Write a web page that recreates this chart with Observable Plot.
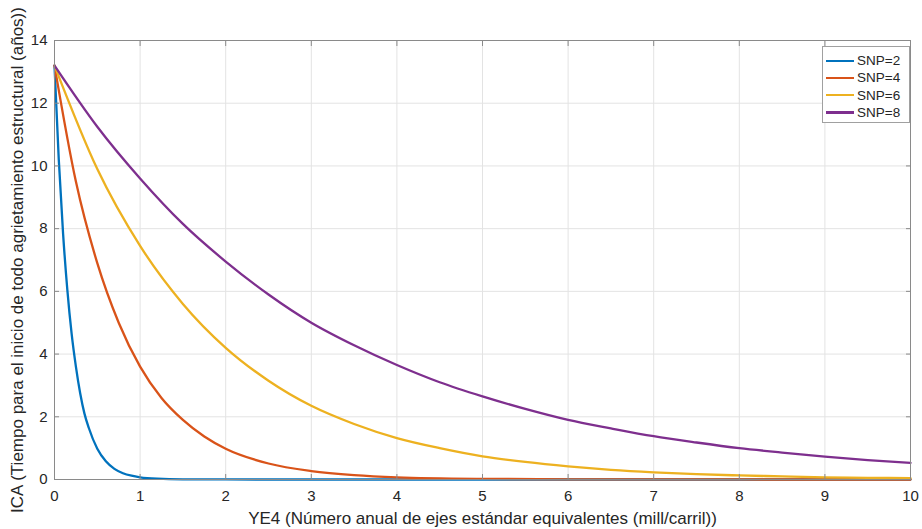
<!DOCTYPE html>
<html>
<head>
<meta charset="utf-8">
<script src="https://cdn.jsdelivr.net/npm/d3@7"></script>
<script src="https://cdn.jsdelivr.net/npm/@observablehq/plot@0.6"></script>
<style>
  body { margin: 0; background: #fff; font-family: "Liberation Sans", Arial, Helvetica, sans-serif; }
  #wrap { position: relative; width: 922px; height: 529px; }
  #legend { position: absolute; left: 822px; top: 46px; width: 88px; height: 77px;
    border: 1px solid #a0a0a0; background: #fff; box-sizing: border-box; padding-top: 5px; }
  .item { display: flex; align-items: center; height: 17.3px; font-size: 13.5px; color: #262626; }
  .sw { width: 28px; height: 2.2px; margin-left: 3px; margin-right: 3px; }
</style>
</head>
<body>
<div id="wrap"></div>
<script>
// Series names and colours
const seriesNames = ["SNP=2", "SNP=4", "SNP=6", "SNP=8"];
const seriesColors = ["#0072BD", "#D95319", "#EDB120", "#7E2F8E"];

// SNP=2
const xSNP2 = [0, 0.05, 0.1, 0.15, 0.2, 0.25, 0.3, 0.35, 0.4, 0.5, 0.6, 0.7, 0.8, 0.9, 1.0, 1.2, 1.5, 2, 3, 4, 5, 6, 7, 8, 9, 10];
const ySNP2 = [13.2, 10.2, 7.85, 6.05, 4.65, 3.6, 2.75, 2.1, 1.65, 0.98, 0.58, 0.34, 0.2, 0.12, 0.07, 0.025, 0.005, 0.001, 0, 0, 0, 0, 0, 0, 0, 0];

// SNP=4
const xSNP4 = [0, 0.25, 0.5, 0.75, 1, 1.25, 1.5, 1.75, 2, 2.5, 3, 3.5, 4, 5, 6, 7, 8, 9, 10];
const ySNP4 = [13.2, 9.5, 6.9, 5.0, 3.6, 2.6, 1.9, 1.37, 0.98, 0.51, 0.27, 0.14, 0.07, 0.02, 0.006, 0.002, 0.001, 0, 0];

// SNP=6
const xSNP6 = [0, 0.5, 1, 1.5, 2, 2.5, 3, 3.5, 4, 4.5, 5, 5.5, 6, 6.5, 7, 7.5, 8, 8.5, 9, 9.5, 10];
const ySNP6 = [13.2, 9.9, 7.45, 5.6, 4.2, 3.15, 2.35, 1.77, 1.32, 1.0, 0.74, 0.56, 0.42, 0.31, 0.23, 0.17, 0.13, 0.1, 0.07, 0.055, 0.04];

// SNP=8
const xSNP8 = [0, 0.5, 1, 1.5, 2, 2.5, 3, 3.5, 4, 4.5, 5, 5.5, 6, 6.5, 7, 7.5, 8, 8.5, 9, 9.5, 10];
const ySNP8 = [13.2, 11.25, 9.6, 8.15, 6.95, 5.9, 5.0, 4.28, 3.65, 3.1, 2.65, 2.25, 1.9, 1.63, 1.38, 1.18, 1.0, 0.86, 0.73, 0.62, 0.53];

// Tick values
const xTicks = [0, 1, 2, 3, 4, 5, 6, 7, 8, 9, 10];
const yTicks = [0, 2, 4, 6, 8, 10, 12, 14];

const xLabel = "YE4 (Número anual de ejes estándar equivalentes (mill/carril))";
const yLabel = "ICA (Tiempo para el inicio de todo agrietamiento estructural (años))";

const xs = [xSNP2, xSNP4, xSNP6, xSNP8];
const ys = [ySNP2, ySNP4, ySNP6, ySNP8];
const data = seriesNames.flatMap((s, i) => xs[i].map((x, j) => ({series: s, x, y: ys[i][j]})));

const textColor = "#262626";
const chart = Plot.plot({
  width: 922,
  height: 529,
  marginLeft: 54,
  marginRight: 12,
  marginTop: 40,
  marginBottom: 50,
  style: {fontFamily: '"Liberation Sans", Arial, Helvetica, sans-serif', fontSize: "15px", color: textColor, background: "#fff"},
  x: {domain: [0, 10]},
  y: {domain: [0, 14]},
  color: {domain: seriesNames, range: seriesColors},
  marks: [
    Plot.gridX(xTicks, {stroke: "#e3e3e3", strokeOpacity: 1}),
    Plot.gridY(yTicks, {stroke: "#e3e3e3", strokeOpacity: 1}),
    Plot.line(data, {x: "x", y: "y", z: "series", stroke: "series", strokeWidth: 2.3, curve: "monotone-x"}),
    Plot.frame({stroke: "#8a8a8a", strokeWidth: 1}),
    Plot.axisX(xTicks, {anchor: "bottom", tickSize: -5, tickPadding: 16, stroke: "#8a8a8a", fontSize: 15, label: xLabel, labelAnchor: "center", labelArrow: "none", labelOffset: 44}),
    Plot.axisX(xTicks, {anchor: "top", tickSize: -5, tickFormat: () => "", stroke: "#8a8a8a", label: null}),
    Plot.axisY(yTicks, {anchor: "left", tickSize: -5, tickPadding: 12, stroke: "#8a8a8a", fontSize: 15, label: yLabel, labelAnchor: "center", labelArrow: "none", labelOffset: 44}),
    Plot.axisY(yTicks, {anchor: "right", tickSize: -5, tickFormat: () => "", stroke: "#8a8a8a", label: null})
  ]
});
chart.querySelectorAll("[aria-label='x-axis label'] text, [aria-label='y-axis label'] text").forEach(t => t.setAttribute("font-size", "17"));
const wrap = document.getElementById("wrap");
wrap.appendChild(chart);

const legend = document.createElement("div");
legend.id = "legend";
seriesNames.forEach((s, i) => {
  const it = document.createElement("div");
  it.className = "item";
  const sw = document.createElement("div");
  sw.className = "sw";
  sw.style.background = seriesColors[i];
  const tx = document.createElement("span");
  tx.textContent = s;
  it.appendChild(sw); it.appendChild(tx);
  legend.appendChild(it);
});
wrap.appendChild(legend);
</script>
</body>
</html>
